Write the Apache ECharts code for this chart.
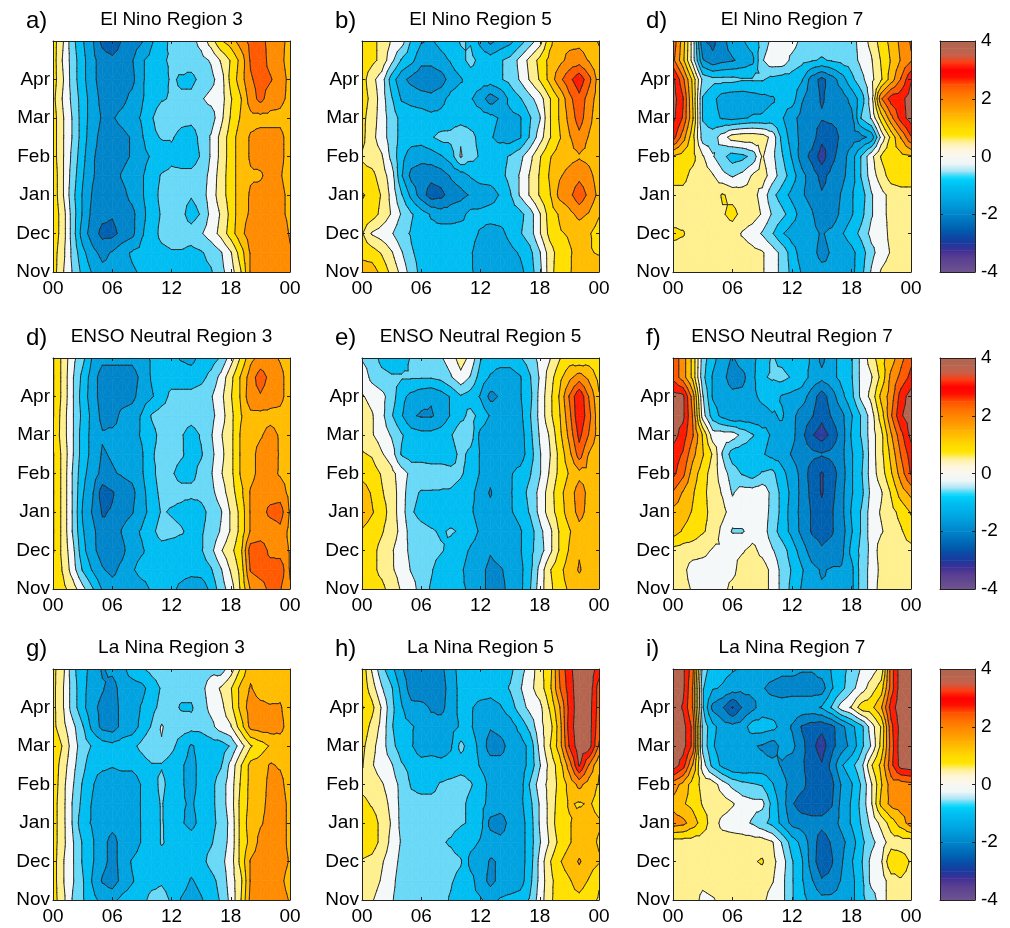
<!DOCTYPE html>
<html><head><meta charset="utf-8">
<script src="https://cdn.jsdelivr.net/npm/echarts@6/dist/echarts.min.js"></script>
<style>html,body{margin:0;padding:0;background:#fff}#c{width:1010px;height:928px}</style>
</head><body><div id="c"></div>
<script>
const hours=[0,1,2,3,4,5,6,7,8,9,10,11,12,13,14,15,16,17,18,19,20,21,22,23,24];
const rowPos=[0,0.5,1,1.5,2,2.5,3,3.5,4,4.5,5,5.5,6];
const monthLabels=['Nov','Dec','Jan','Feb','Mar','Apr',''];
const hourLabels={0:'00',6:'06',12:'12',18:'18',24:'00'};
const levels=[-3.25,-2.75,-2.25,-1.75,-1.25,-0.75,-0.25,0.25,0.75,1.25,1.75,2.25,2.75,3.25];
const bandColors=['#4A3398','#2A3C9E','#0060B0','#0085CA','#00A3E0','#00BEF2','#6AD9F7','#F5F8F8','#FFF08F','#FFE000','#FFBC00','#FF8C00','#FF5A00','#FF1A00','#B5654F'];
const barFrom=[-4,-3.75,-3.5,-3.25,-3,-2.75,-2.5,-2.25,-2,-1.75,-1.5,-1.25,-1,-0.75,-0.5,-0.25,0,0.25,0.5,0.75,1,1.25,1.5,1.75,2,2.25,2.5,2.75,3,3.25,3.5,3.75];
const barColors=['#6F5590','#63498F','#5A3F92','#3F2F95','#1A3A9E','#0A4AA6','#0060B0','#0072BD','#0085CA','#0095D6','#00A5E0','#00B2EA','#00BFF2','#00D5FC','#A5E4F5','#EEF6F8','#F7F7F2','#FFF6DC','#FFF0A0','#FFE500','#FFD900','#FFC400','#FFAE00','#FF9800','#FF8500','#FF6E00','#FF5000','#FF1000','#FF0000','#FF3A10','#C9604A','#B5654F'];
const titles=['El Nino Region 3','El Nino Region 5','El Nino Region 7','ENSO Neutral Region 3','ENSO Neutral Region 5','ENSO Neutral Region 7','La Nina Region 3','La Nina Region 5','La Nina Region 7'];
const letters=['a)','b)','d)','d)','e)','f)','g)','h)','i)'];

const elNinoR3=[
[1.0,0.3,-0.3,-0.9,-1.3,-1.6,-1.6,-1.4,-1.3,-1.2,-1.0,-1.0,-1.0,-1.0,-0.9,-0.9,-0.8,-0.4,0.0,0.7,1.8,2.0,2.1,2.2,1.9],
[1.0,0.4,-0.4,-1.1,-1.6,-1.9,-1.7,-1.4,-1.2,-1.1,-1.0,-0.9,-0.8,-0.8,-0.9,-0.8,-0.6,-0.3,0.2,1.0,1.8,2.0,2.1,2.1,1.8],
[1.1,0.5,-0.5,-1.5,-2.0,-2.4,-2.4,-2.1,-1.9,-1.3,-1.0,-0.6,-0.5,-0.5,-0.5,-0.3,0.0,0.4,1.0,1.6,2.0,2.1,2.1,2.1,1.7],
[1.1,0.5,-0.5,-1.3,-1.9,-2.1,-2.2,-2.0,-1.9,-1.4,-1.0,-0.7,-0.5,-0.6,-1.0,-0.7,-0.1,0.3,0.9,1.6,1.8,2.0,2.0,1.9,1.6],
[1.1,0.3,-0.6,-1.3,-1.8,-2.0,-2.0,-1.9,-1.6,-1.3,-1.0,-0.6,-0.6,-0.6,-0.7,-0.5,0.0,0.5,1.0,1.5,1.8,1.9,2.0,1.9,1.6],
[1.1,0.3,-0.5,-1.2,-1.7,-2.0,-2.0,-1.7,-1.5,-1.3,-1.0,-0.7,-0.6,-0.6,-0.6,-0.5,-0.1,0.5,1.0,1.5,1.7,1.7,1.9,1.8,1.5],
[1.0,0.3,-0.4,-1.1,-1.7,-1.9,-2.0,-1.9,-1.7,-1.4,-1.2,-1.1,-0.9,-1.0,-1.0,-0.7,-0.2,0.4,1.0,1.5,1.8,1.9,1.9,1.9,1.5],
[1.0,0.3,-0.3,-1.0,-1.6,-1.9,-2.0,-1.9,-1.7,-1.3,-0.9,-0.7,-0.7,-0.9,-1.0,-0.6,-0.2,0.4,1.0,1.5,1.8,1.9,1.9,1.9,1.5],
[1.0,0.3,-0.3,-1.0,-1.5,-1.8,-1.8,-1.6,-1.4,-1.2,-0.8,-0.4,-0.5,-0.6,-0.6,-0.5,-0.5,0.1,0.8,1.3,1.6,1.6,1.6,1.6,1.4],
[0.9,0.2,-0.4,-1.0,-1.5,-1.9,-2.0,-1.9,-1.6,-1.3,-1.0,-0.8,-0.7,-0.7,-0.6,-0.3,-0.1,0.0,0.7,1.2,2.0,2.4,2.0,1.9,1.6],
[1.0,0.3,-0.5,-1.1,-1.6,-2.0,-2.1,-2.0,-1.9,-1.3,-1.1,-0.9,-0.7,-0.8,-0.9,-0.6,-0.4,0.0,0.9,1.5,2.2,2.4,2.3,2.0,1.6],
[1.0,0.2,-0.5,-1.1,-1.6,-2.0,-2.1,-2.0,-1.8,-1.3,-1.1,-0.8,-0.7,-0.6,-0.5,-0.4,-0.2,0.3,0.8,1.4,2.3,2.5,2.1,1.9,1.5],
[1.0,0.3,-0.6,-1.2,-1.7,-2.4,-2.7,-2.2,-2.0,-1.8,-1.3,-1.0,-0.6,-0.5,-0.4,-0.1,0.5,1.2,1.5,2.0,2.4,2.4,2.1,1.9,1.6]];
const elNinoR5=[
[1.5,1.5,1.1,0.6,0.1,-0.5,-0.9,-1.0,-1.0,-1.0,-1.1,-1.2,-1.4,-1.5,-1.5,-1.5,-1.4,-1.0,-0.4,0.5,1.1,1.2,1.5,1.6,1.6],
[1.1,1.0,0.7,0.3,-0.2,-0.7,-0.9,-1.0,-1.0,-1.0,-1.1,-1.2,-1.5,-1.6,-1.6,-1.4,-1.2,-0.9,-0.3,0.5,1.0,1.2,1.4,1.3,1.2],
[0.8,0.2,0.0,-0.2,-0.6,-0.8,-1.0,-1.1,-1.0,-1.0,-1.0,-1.1,-1.3,-1.5,-1.4,-1.1,-0.8,-0.5,0.2,0.9,1.2,1.3,1.4,1.3,1.0],
[1.1,1.0,0.6,0.2,-0.3,-0.7,-1.0,-1.3,-1.5,-1.5,-1.4,-1.1,-1.1,-1.0,-1.0,-1.0,-0.9,-0.5,0.2,1.0,1.3,1.6,1.9,1.7,1.3],
[1.3,1.1,0.7,0.1,-0.7,-1.4,-2.0,-2.5,-2.4,-2.0,-1.9,-1.7,-1.6,-1.5,-1.2,-0.8,-0.2,0.3,0.8,1.2,1.9,2.1,2.6,2.1,1.6],
[0.9,0.9,0.5,0.0,-1.2,-1.9,-2.0,-2.1,-2.0,-1.7,-1.5,-1.2,-1.0,-1.0,-0.9,-0.6,-0.2,0.3,0.8,1.3,1.7,1.9,2.1,1.9,1.5],
[0.7,0.5,0.3,-0.4,-1.1,-1.5,-1.6,-1.5,-1.3,-1.0,-0.2,-0.6,-0.8,-1.0,-0.9,-0.7,-0.4,0.1,0.7,1.2,1.5,1.6,1.7,1.6,1.3],
[0.9,0.4,0.0,-0.5,-0.9,-1.0,-1.0,-0.8,-0.6,-0.6,-0.3,-0.6,-0.9,-1.2,-1.4,-1.5,-1.3,-0.7,0.0,0.7,1.2,1.7,2.1,1.7,1.4],
[0.9,0.5,0.0,-0.5,-0.9,-1.0,-1.0,-1.1,-1.1,-1.0,-1.0,-1.0,-1.0,-1.1,-1.3,-1.4,-1.3,-0.8,-0.3,0.7,1.3,1.9,2.5,1.9,1.4],
[1.0,0.6,0.0,-0.7,-1.3,-1.4,-1.5,-1.6,-1.4,-1.1,-1.0,-1.2,-1.5,-2.0,-1.7,-1.1,-0.8,-0.4,0.0,0.7,1.3,2.1,2.6,2.0,1.5],
[1.0,0.4,0.0,-1.0,-1.6,-1.9,-2.1,-2.1,-2.0,-1.5,-1.3,-1.0,-1.0,-1.0,-0.8,-0.6,-0.2,0.3,0.8,1.4,2.1,2.6,3.1,2.4,1.5],
[1.1,0.9,0.6,-0.1,-0.8,-1.1,-1.6,-1.6,-1.4,-1.2,-0.9,-0.6,-0.9,-1.0,-0.8,-0.6,-0.1,0.4,0.9,1.4,1.6,1.9,2.0,1.7,1.4],
[1.0,0.9,0.6,0.2,0.0,-0.8,-1.2,-1.3,-1.1,-1.0,-0.7,-0.8,-1.4,-1.9,-1.6,-1.4,-1.0,-0.5,0.0,1.1,1.6,1.6,1.6,1.5,1.2]];
const elNinoR7=[
[0.5,0.5,0.5,0.5,0.6,0.5,0.5,0.5,0.5,0.3,0.0,-0.4,-0.9,-1.3,-1.5,-1.6,-1.7,-1.5,-1.4,-0.9,-0.2,0.3,0.5,0.5,0.5],
[0.5,0.5,0.5,0.5,0.5,0.5,0.4,0.5,0.4,0.3,0.0,-0.4,-1.0,-1.5,-1.6,-1.9,-1.7,-1.6,-1.4,-1.0,-0.4,0.0,0.3,0.5,0.5],
[0.9,0.8,0.5,0.5,0.5,0.5,0.5,0.2,0.0,-0.3,-0.7,-1.2,-1.5,-1.6,-1.6,-1.8,-1.6,-1.3,-1.0,-0.6,-0.1,0.0,0.4,0.7,0.7],
[0.4,0.5,0.5,0.5,0.5,0.7,0.9,0.6,0.5,0.2,-0.3,-0.6,-1.0,-1.5,-1.7,-2.1,-2.1,-1.6,-1.3,-0.9,-0.3,0.1,0.4,0.5,0.3],
[0.5,0.6,0.5,0.5,0.5,0.8,0.6,0.5,0.4,0.1,-0.6,-1.0,-1.4,-1.7,-1.9,-2.2,-2.1,-1.7,-1.3,-1.0,-0.3,0.1,0.4,0.5,0.5],
[1.0,0.9,0.6,0.5,0.3,-0.1,-0.3,-0.1,0.3,0.5,0.0,-0.5,-1.0,-1.6,-2.0,-2.4,-2.1,-1.9,-1.5,-0.7,0.0,0.5,1.0,1.1,1.1],
[1.2,1.0,0.9,0.3,-0.2,-0.6,-1.0,-0.9,-0.6,0.3,-0.1,-0.7,-1.3,-2.0,-2.4,-3.0,-2.4,-2.0,-1.5,-0.7,0.1,0.8,1.2,1.1,1.2],
[3.0,2.0,0.9,-0.5,-0.5,0.0,0.5,0.6,0.6,0.5,0.1,-0.9,-1.5,-1.9,-2.0,-2.6,-2.6,-2.1,-2.0,-1.9,-1.6,-0.1,0.9,1.8,2.7],
[3.4,2.7,1.3,-0.8,-1.1,-1.3,-1.4,-1.3,-1.2,-1.2,-1.1,-1.2,-1.6,-1.9,-2.1,-2.2,-2.1,-2.1,-1.9,-0.7,-0.2,1.0,2.1,3.0,3.5],
[3.5,2.8,1.2,-0.8,-1.1,-1.5,-1.6,-1.6,-1.5,-1.4,-1.3,-1.1,-1.0,-1.7,-2.0,-2.3,-2.1,-2.0,-1.6,-1.0,0.0,2.2,3.0,3.1,3.5],
[3.4,2.4,1.1,-0.4,-0.6,-0.6,-0.6,-0.7,-0.7,-0.7,-0.9,-1.0,-1.0,-1.2,-2.0,-2.4,-2.0,-1.5,-0.9,-0.4,0.1,0.7,1.5,2.3,3.2],
[2.4,1.4,0.0,-1.7,-2.1,-1.9,-1.8,-1.6,-1.4,-0.3,0.1,0.1,-0.4,-0.6,-0.7,-0.8,-0.7,-0.6,-0.5,-0.1,0.2,0.8,1.3,1.8,2.2],
[2.6,1.5,0.0,-2.2,-2.4,-1.9,-1.5,-1.3,-1.0,-0.6,-0.1,0.0,0.0,-0.4,-0.5,-0.5,-0.5,-0.5,-0.5,0.0,0.4,1.0,1.4,1.9,2.3]];
const neutralR3=[
[1.2,0.9,0.5,-0.1,-0.7,-1.3,-1.5,-1.5,-1.5,-1.4,-1.2,-1.1,-1.1,-1.4,-1.7,-1.6,-1.1,-0.5,0.0,0.8,1.8,2.0,2.4,2.3,1.8],
[1.2,0.7,0.0,-0.8,-1.3,-1.7,-1.9,-1.6,-1.3,-1.1,-1.1,-1.1,-1.0,-1.0,-1.0,-1.0,-0.8,-0.3,0.3,0.9,2.3,2.5,2.5,2.6,1.7],
[1.3,0.6,-0.1,-1.1,-1.6,-2.0,-2.1,-1.9,-1.4,-1.3,-1.1,-1.0,-1.0,-1.0,-0.9,-0.8,-0.4,0.2,0.6,1.1,2.5,2.6,2.1,2.0,1.7],
[1.3,0.6,-0.3,-1.2,-1.6,-2.1,-2.2,-1.7,-1.4,-1.2,-0.9,-0.5,-0.6,-0.7,-0.9,-0.8,-0.6,-0.2,0.3,0.9,1.8,1.9,1.9,2.1,1.6],
[1.3,0.6,-0.3,-1.3,-1.8,-2.3,-2.2,-2.0,-1.8,-1.4,-1.1,-0.7,-0.8,-0.9,-1.1,-0.9,-0.6,-0.3,0.3,0.9,1.8,2.0,2.4,2.5,1.7],
[1.3,0.6,-0.3,-1.2,-1.7,-2.5,-2.3,-2.0,-1.9,-1.4,-1.0,-0.6,-0.6,-0.6,-0.6,-0.6,-0.4,0.0,0.5,1.1,1.8,2.0,2.0,2.0,1.6],
[1.3,0.6,-0.3,-1.1,-1.5,-1.9,-1.8,-1.7,-1.6,-1.3,-0.9,-0.5,-0.7,-0.9,-0.9,-0.6,-0.3,0.2,0.6,1.3,1.6,1.9,1.9,1.7,1.6],
[1.3,0.6,-0.2,-1.0,-1.4,-1.8,-1.7,-1.6,-1.5,-1.3,-0.8,-0.6,-0.6,-0.7,-0.9,-0.8,-0.4,0.1,0.6,1.3,1.6,1.9,2.0,1.7,1.6],
[1.2,0.5,-0.2,-1.0,-1.4,-1.7,-1.6,-1.6,-1.4,-1.2,-0.9,-0.6,-0.6,-0.7,-1.0,-0.7,-0.3,0.2,0.6,1.3,1.6,1.7,1.9,1.7,1.5],
[1.3,0.5,-0.2,-0.9,-1.4,-1.9,-2.0,-1.6,-1.5,-1.2,-0.7,-0.5,-0.5,-0.5,-0.5,-0.4,-0.4,0.0,0.6,1.2,1.6,1.6,1.6,1.6,1.4],
[1.3,0.6,-0.2,-1.0,-1.5,-2.0,-2.1,-2.0,-1.9,-1.5,-1.3,-1.0,-0.6,-0.6,-0.6,-0.5,-0.3,0.1,0.7,1.3,2.1,2.2,2.0,1.9,1.5],
[1.3,0.6,-0.2,-0.9,-1.5,-2.0,-2.0,-2.0,-2.0,-1.6,-1.2,-1.0,-1.0,-1.0,-1.0,-0.9,-0.6,-0.1,0.6,1.3,2.0,2.5,2.1,1.9,1.5],
[1.3,0.6,-0.1,-0.6,-1.3,-1.6,-1.6,-1.6,-1.6,-1.4,-1.2,-1.1,-1.1,-1.3,-1.4,-1.1,-1.0,-0.7,0.0,0.8,1.6,1.9,1.9,1.7,1.5]];
const neutralR5=[
[1.1,1.0,0.9,0.5,0.2,0.0,-0.5,-0.8,-1.0,-1.1,-1.2,-1.3,-1.6,-1.9,-1.9,-1.6,-1.4,-0.8,0.0,0.6,1.1,1.3,1.5,1.5,1.5],
[1.1,0.9,0.6,0.3,0.1,-0.3,-0.5,-0.7,-1.0,-1.1,-1.2,-1.4,-1.6,-1.9,-1.8,-1.6,-1.4,-0.9,-0.1,0.7,1.1,1.5,1.8,1.5,1.3],
[1.1,0.9,0.6,0.3,0.0,-0.4,-0.6,-0.6,-0.7,-0.9,-1.1,-1.3,-1.4,-1.7,-1.5,-1.4,-1.3,-0.9,-0.5,0.1,0.8,1.3,1.7,1.5,1.3],
[1.2,1.0,0.8,0.5,0.1,-0.5,-0.6,-0.7,-0.8,-0.7,-0.8,-1.1,-1.3,-1.5,-1.6,-1.5,-1.3,-1.0,-0.4,0.1,0.8,1.2,1.6,1.5,1.4],
[1.6,1.3,1.0,0.5,0.0,-0.7,-0.9,-1.0,-1.0,-1.0,-1.0,-1.2,-1.4,-1.6,-1.5,-1.3,-1.1,-0.7,-0.1,0.5,1.0,1.5,1.9,1.6,1.4],
[1.5,1.2,0.8,0.5,0.0,-0.6,-0.8,-0.8,-0.8,-0.8,-0.9,-1.1,-1.5,-1.8,-1.4,-1.3,-1.0,-0.6,-0.1,0.5,1.1,1.5,2.0,1.6,1.5],
[1.1,1.0,0.7,0.4,0.0,-0.4,-0.4,-0.4,-0.5,-0.6,-0.7,-0.9,-1.3,-1.6,-1.4,-1.3,-1.1,-0.8,-0.3,0.3,0.9,1.3,1.6,1.6,1.5],
[0.8,0.7,0.3,0.0,-0.8,-1.0,-1.0,-1.1,-1.0,-1.0,-0.6,-0.9,-1.3,-1.6,-1.6,-1.5,-1.5,-1.0,-0.3,0.2,0.9,1.6,2.5,1.7,1.4],
[0.6,0.3,0.0,-0.3,-0.7,-1.0,-1.1,-1.1,-1.0,-0.8,-0.4,-0.5,-1.4,-1.6,-1.6,-1.6,-1.5,-0.9,-0.2,0.3,1.1,1.9,2.9,2.2,1.5],
[0.5,0.3,-0.1,-0.7,-1.2,-1.7,-1.8,-1.8,-1.6,-1.2,-0.9,-0.6,-0.9,-1.3,-1.5,-1.5,-1.4,-0.8,-0.1,0.6,1.2,2.1,3.2,2.4,1.4],
[0.3,0.1,-0.1,-0.5,-1.1,-1.4,-1.6,-1.7,-1.5,-1.2,-0.8,-1.0,-1.3,-1.9,-1.7,-1.5,-1.3,-0.9,-0.1,0.6,1.3,2.3,3.2,2.2,1.3],
[0.1,-0.4,-0.6,-0.7,-0.7,-0.7,-0.7,-0.7,-0.6,-0.3,0.1,-0.3,-1.0,-1.3,-1.5,-1.5,-1.3,-0.8,-0.2,0.5,1.1,1.6,2.0,1.6,1.1],
[-0.3,-0.5,-0.9,-1.0,-1.0,-0.7,-0.6,-0.7,-0.3,0.0,0.5,0.1,-0.7,-1.0,-1.0,-1.0,-0.8,-0.5,-0.1,0.2,0.7,1.0,0.8,1.0,0.9]];
const neutralR7=[
[0.5,0.4,0.2,0.0,0.0,0.1,0.4,0.5,0.5,0.5,0.1,-0.4,-0.9,-1.3,-1.6,-1.7,-1.7,-1.7,-1.4,-0.5,-0.1,0.5,0.6,0.5,0.5],
[0.5,0.4,0.0,0.0,0.0,0.1,0.1,0.5,0.5,0.5,0.1,-0.4,-0.8,-1.2,-1.6,-1.8,-1.7,-1.7,-1.4,-0.5,-0.1,0.4,0.5,0.5,0.5],
[0.6,0.5,0.5,0.4,0.2,0.2,0.2,0.2,0.4,0.1,-0.2,-0.5,-1.0,-1.5,-2.0,-2.2,-2.1,-1.9,-1.1,-0.6,-0.1,0.5,0.6,0.6,0.6],
[1.5,1.2,1.0,0.8,0.6,0.1,-0.3,-0.3,0.0,0.0,-0.5,-1.0,-1.4,-1.9,-2.3,-2.4,-2.3,-2.0,-1.3,-0.7,0.0,0.2,0.5,0.7,1.0],
[1.6,1.5,1.2,0.9,0.6,0.4,0.0,0.1,0.1,0.0,-0.4,-0.9,-1.5,-1.9,-2.3,-2.6,-2.3,-1.9,-1.2,-0.7,0.0,0.3,0.6,0.9,1.3],
[2.2,1.7,1.3,0.9,0.5,0.2,-0.3,0.0,0.0,0.1,-0.4,-0.9,-1.4,-1.9,-2.4,-2.8,-2.4,-1.9,-1.3,-0.9,-0.1,0.2,0.8,1.5,1.9],
[2.9,2.4,1.5,1.0,0.5,0.0,-0.5,-0.8,-1.0,-0.7,-0.6,-1.1,-1.5,-1.9,-2.5,-2.8,-2.5,-2.0,-1.3,-0.8,0.0,0.5,1.2,2.0,2.8],
[3.0,2.7,1.9,1.3,0.7,-0.3,-1.0,-1.1,-1.1,-1.2,-1.4,-1.5,-1.8,-2.0,-2.1,-2.2,-2.1,-1.9,-1.3,-0.9,0.0,0.6,1.4,2.3,3.0],
[3.5,3.0,2.3,1.2,0.0,0.0,0.0,-0.4,-0.7,-1.1,-1.3,-1.4,-1.6,-2.1,-2.7,-3.0,-2.6,-2.0,-1.2,-0.7,0.0,0.6,1.7,2.6,3.4],
[3.5,3.4,2.2,0.0,-1.0,-1.4,-1.7,-1.6,-1.6,-1.5,-1.3,-1.2,-1.6,-2.0,-2.2,-2.6,-2.2,-1.9,-1.3,-0.7,0.0,1.0,2.2,3.2,3.5],
[3.5,3.4,2.0,-0.2,-1.3,-1.5,-1.6,-1.6,-1.4,-1.1,-1.0,-1.3,-1.4,-1.5,-2.0,-2.5,-2.0,-1.4,-0.9,-0.1,0.4,1.4,2.0,3.0,3.5],
[2.6,2.0,1.1,-0.6,-1.3,-1.6,-2.0,-1.9,-1.4,-0.8,-0.7,-0.6,-0.8,-1.0,-1.4,-1.6,-1.4,-1.1,-0.8,-0.1,0.2,0.9,1.9,2.4,2.9],
[2.6,2.0,1.1,-0.5,-1.1,-1.5,-1.8,-1.5,-1.4,-1.0,-0.7,-0.9,-1.1,-1.1,-1.3,-1.9,-1.4,-1.1,-0.8,-0.1,0.5,1.1,1.5,2.1,2.6]];
const laNinaR3=[
[1.0,0.4,-0.3,-0.7,-1.1,-1.4,-1.4,-1.1,-1.0,-0.9,-0.6,-0.6,-0.8,-1.3,-1.5,-1.3,-1.0,-0.7,-0.1,0.7,1.9,2.0,2.0,2.0,1.7],
[1.0,0.3,-0.2,-0.7,-1.3,-1.8,-2.0,-1.6,-1.3,-1.0,-0.9,-0.8,-0.9,-1.0,-1.3,-1.1,-0.9,-0.6,0.0,0.6,1.8,2.1,2.1,1.9,1.5],
[1.0,0.3,-0.2,-0.8,-1.2,-1.6,-1.9,-1.6,-1.2,-1.0,-1.0,-1.0,-1.0,-1.0,-1.0,-0.9,-0.6,-0.4,0.0,0.9,1.8,2.0,2.0,2.0,1.7],
[1.0,0.4,-0.2,-0.8,-1.2,-1.6,-1.9,-1.6,-1.6,-1.2,-1.1,-0.7,-0.9,-0.9,-1.0,-0.9,-0.8,-0.5,-0.1,0.9,1.4,1.9,2.0,2.0,1.6],
[1.0,0.4,-0.3,-1.1,-1.3,-1.5,-1.6,-1.6,-1.6,-1.2,-1.1,-0.7,-1.0,-1.2,-1.4,-1.1,-0.9,-0.6,-0.1,0.9,1.5,1.7,1.9,2.0,1.6],
[1.0,0.4,-0.3,-0.9,-1.3,-1.5,-1.6,-1.6,-1.5,-1.2,-1.0,-0.7,-1.1,-1.2,-1.3,-1.1,-0.9,-0.5,0.0,0.9,1.4,1.6,1.9,2.0,1.6],
[1.1,0.4,-0.2,-0.8,-1.2,-1.6,-1.6,-1.6,-1.6,-1.2,-1.0,-0.6,-1.0,-1.2,-1.4,-1.1,-0.9,-0.5,0.0,0.8,1.4,1.5,1.9,1.9,1.5],
[1.1,0.5,-0.1,-0.6,-1.1,-1.1,-1.2,-1.1,-1.1,-1.0,-0.8,-0.8,-1.0,-1.2,-1.4,-1.1,-1.0,-0.8,-0.1,0.7,1.4,1.5,1.8,1.7,1.5],
[1.2,0.7,0.0,-0.5,-0.8,-1.0,-1.1,-1.0,-0.9,-0.6,-0.3,-0.3,-0.6,-1.0,-1.3,-1.1,-1.0,-1.0,-0.7,0.0,0.7,1.0,1.3,1.5,1.4],
[0.9,0.4,-0.1,-0.7,-1.4,-1.9,-2.0,-1.6,-1.5,-1.1,-0.7,-0.2,-0.5,-0.5,-0.6,-0.6,-0.4,0.0,0.2,1.0,1.9,2.0,2.0,1.9,1.5],
[0.9,0.3,-0.5,-1.1,-1.6,-1.9,-2.0,-1.6,-1.5,-1.2,-0.9,-0.6,-0.6,-0.8,-0.8,-0.5,-0.1,0.1,0.6,1.4,2.0,1.9,1.8,1.8,1.5],
[0.9,0.3,-0.5,-1.1,-1.5,-1.7,-2.0,-1.5,-1.5,-1.4,-1.0,-0.7,-0.6,-0.6,-0.6,-0.4,0.0,0.3,0.7,1.4,1.8,1.5,1.5,1.6,1.4],
[0.9,0.4,-0.6,-1.1,-1.4,-1.8,-1.6,-1.4,-1.0,-0.8,-0.6,-0.5,-0.5,-0.5,-0.6,-0.5,-0.4,-0.5,0.0,0.8,1.6,1.5,1.6,1.5,1.4]];
const laNinaR5=[
[0.5,0.3,0.0,-0.2,-0.5,-0.6,-0.6,-0.6,-0.6,-0.8,-1.1,-1.2,-1.2,-1.4,-1.2,-1.1,-1.0,-0.7,0.0,0.6,1.1,1.1,1.1,0.9,0.7],
[0.6,0.5,0.2,-0.1,-0.5,-0.5,-0.4,-0.3,-0.6,-0.7,-0.9,-1.1,-1.5,-1.9,-1.6,-1.6,-1.5,-0.9,-0.1,0.6,1.0,1.2,1.5,1.2,0.8],
[0.7,0.6,0.3,0.0,-0.4,-0.5,-0.6,-0.6,-0.6,-0.6,-0.7,-1.4,-1.5,-1.8,-1.7,-1.6,-1.5,-1.0,-0.1,0.7,1.2,1.5,1.8,1.5,1.3],
[1.1,1.0,0.6,0.1,-0.3,-0.5,-0.7,-0.7,-0.7,-0.8,-1.0,-1.1,-1.3,-1.5,-1.6,-1.6,-1.5,-1.0,-0.3,0.3,0.9,1.2,1.5,1.4,1.2],
[1.0,1.0,0.6,0.2,-0.4,-0.5,-0.5,-0.6,-0.6,-0.6,-0.7,-0.8,-1.1,-1.9,-2.0,-1.6,-1.5,-1.0,-0.2,0.4,1.1,1.2,1.5,1.4,1.3],
[0.9,0.7,0.5,0.1,-0.4,-0.6,-0.6,-0.6,-0.6,-0.5,-0.6,-0.9,-1.1,-1.4,-1.5,-1.5,-1.4,-0.9,-0.2,0.4,1.0,1.3,1.2,1.3,1.1],
[0.6,0.5,0.3,0.0,-0.4,-0.8,-0.9,-0.9,-0.7,-0.6,-0.5,-0.7,-1.0,-1.4,-1.6,-1.6,-1.5,-0.7,0.0,0.4,0.9,1.4,1.9,1.5,1.2],
[0.8,0.3,0.0,-0.2,-0.7,-0.9,-1.0,-1.0,-1.1,-1.1,-1.0,-1.0,-1.3,-1.5,-1.6,-1.6,-1.5,-1.1,-0.3,0.4,1.0,2.0,3.3,2.2,1.3],
[0.9,0.4,0.0,-0.6,-1.0,-1.2,-1.6,-1.5,-1.5,-1.3,-0.6,-1.0,-1.4,-2.0,-1.9,-1.6,-1.5,-1.1,-0.1,0.7,1.5,2.8,3.6,3.5,2.2],
[1.1,0.6,0.1,-0.7,-1.1,-1.2,-1.4,-1.6,-1.5,-1.4,-1.2,-1.2,-1.5,-1.7,-1.6,-1.5,-1.1,-0.6,0.1,0.5,1.5,3.0,3.6,3.5,2.4],
[1.3,0.9,0.2,-0.6,-1.2,-1.6,-1.6,-1.8,-1.9,-1.5,-1.1,-1.2,-1.4,-1.4,-1.3,-1.0,-0.5,-0.1,0.1,0.8,1.7,2.9,3.6,3.5,2.5],
[1.1,0.5,-0.2,-0.7,-1.4,-2.0,-2.1,-2.1,-2.0,-1.5,-1.1,-1.0,-1.0,-1.1,-1.0,-0.7,-0.3,0.1,0.5,1.1,2.2,3.0,3.6,3.6,2.5],
[1.1,0.2,-0.6,-1.1,-1.7,-2.0,-2.1,-2.2,-1.9,-1.4,-1.1,-1.0,-1.0,-1.0,-1.0,-0.9,-0.4,-0.1,0.6,1.0,2.3,3.1,3.6,3.6,3.0]];
const laNinaR7=[
[0.5,0.5,0.5,0.1,0.2,0.4,0.5,0.5,0.5,0.4,0.0,-0.1,-0.7,-1.1,-1.4,-1.6,-1.6,-1.6,-1.4,-0.9,-0.5,0.0,0.5,0.5,0.5],
[0.5,0.5,0.5,0.4,0.5,0.5,0.5,0.5,0.5,0.5,0.3,-0.1,-0.7,-1.2,-1.7,-2.2,-2.1,-1.7,-1.4,-0.9,-0.1,0.0,0.5,0.7,0.6],
[0.6,0.5,0.5,0.5,0.5,0.4,0.5,0.5,0.7,0.8,0.4,0.0,-0.7,-1.2,-2.0,-2.6,-2.3,-1.8,-1.3,-0.8,-0.1,0.2,1.2,1.0,0.7],
[0.5,0.5,0.5,0.5,0.5,0.5,0.5,0.5,0.5,0.5,0.3,-0.3,-1.0,-1.4,-2.0,-2.5,-2.2,-1.9,-1.5,-0.9,-0.4,0.0,0.5,0.5,0.5],
[2.0,1.9,1.5,1.0,0.5,0.1,0.0,-0.1,-0.3,-0.6,-0.9,-1.4,-1.9,-2.0,-2.1,-2.1,-2.0,-1.6,-1.2,-0.7,-0.1,0.4,1.0,1.5,2.0],
[1.6,1.3,1.1,0.7,0.6,0.5,0.3,0.0,-0.1,-0.1,-0.9,-1.5,-2.2,-2.5,-2.5,-2.5,-2.3,-1.6,-1.2,-0.6,0.2,1.4,1.9,2.0,2.0],
[2.0,1.6,1.0,0.6,0.5,0.0,-0.4,-0.6,-0.7,-0.8,-1.2,-1.6,-1.9,-2.1,-2.5,-2.6,-2.4,-1.7,-1.3,-0.7,0.2,1.2,2.0,2.0,2.1],
[3.6,3.0,1.7,0.0,-0.9,-1.4,-1.7,-1.7,-1.6,-1.6,-1.6,-1.8,-2.0,-2.2,-2.4,-2.7,-2.1,-1.3,-0.9,-0.4,0.7,1.4,2.6,3.5,3.6],
[3.6,3.5,2.6,-0.4,-1.2,-1.5,-1.6,-1.5,-1.7,-1.8,-2.0,-1.6,-1.6,-2.1,-2.6,-3.0,-2.4,-2.0,-1.6,-0.9,-0.2,0.9,2.5,3.6,3.6],
[3.6,3.5,2.6,-0.4,-1.1,-1.5,-1.6,-1.5,-1.0,-1.0,-1.1,-1.4,-1.8,-2.3,-2.5,-2.6,-2.4,-1.9,-1.4,-0.9,0.0,0.8,2.6,3.5,3.6],
[3.6,3.2,2.2,-0.7,-1.9,-2.2,-2.8,-2.2,-1.9,-1.5,-1.5,-1.5,-1.4,-1.4,-1.4,-1.2,-0.7,0.0,0.3,1.0,1.1,1.7,3.0,3.6,3.6],
[3.6,3.4,2.2,-0.7,-1.2,-1.3,-1.5,-1.6,-1.6,-1.7,-1.9,-2.0,-2.0,-2.0,-2.0,-2.0,-1.3,-0.9,-0.4,0.0,0.5,1.0,2.5,3.6,3.6],
[3.6,3.4,2.4,-0.5,-1.0,-1.1,-1.2,-1.3,-1.5,-1.5,-1.5,-1.6,-1.6,-1.7,-1.7,-1.5,-1.2,-0.9,-0.6,-0.2,0.0,0.4,2.5,3.6,3.6]];
const panels=[elNinoR3,elNinoR5,elNinoR7,neutralR3,neutralR5,neutralR7,laNinaR3,laNinaR5,laNinaR7];

const FONT='"Liberation Sans",Arial,sans-serif';
const colX=[[53,237],[362,237],[673,238]];
const rowY=[[41,231],[358,231],[669,231]];
const barX=[940,35];

function clip(pts,lv,keepAbove){
  const out=[];
  for(let i=0;i<pts.length;i++){
    const a=pts[i],b=pts[(i+1)%pts.length];
    const ina=keepAbove?a[2]>=lv:a[2]<=lv, inb=keepAbove?b[2]>=lv:b[2]<=lv;
    if(ina) out.push(a);
    if(ina!==inb){const t=(lv-a[2])/(b[2]-a[2]);out.push([a[0]+t*(b[0]-a[0]),a[1]+t*(b[1]-a[1]),lv]);}
  }
  return out;
}
function makeContour(matrix){
  return function(params,api){
    const c=api.value(3),r=api.value(4);
    if(c>=hours.length-1||r>=rowPos.length-1) return null;
    const P=(cc,rr)=>{const q=api.coord([hours[cc],rowPos[rr]]);return [q[0],q[1],matrix[rr][cc]];};
    const a=P(c,r),b=P(c+1,r),d=P(c+1,r+1),e=P(c,r+1);
    const mid=[(a[0]+d[0])/2,(a[1]+d[1])/2,(a[2]+b[2]+d[2]+e[2])/4];
    const children=[];
    [[a,b,mid],[b,d,mid],[d,e,mid],[e,a,mid]].forEach(tri=>{
      const mn=Math.min(tri[0][2],tri[1][2],tri[2][2]),mx=Math.max(tri[0][2],tri[1][2],tri[2][2]);
      for(let k=0;k<bandColors.length;k++){
        const lo=k===0?-Infinity:levels[k-1],hi=k===levels.length?Infinity:levels[k];
        if(mx<lo||mn>hi) continue;
        let poly=tri;
        if(lo!==-Infinity) poly=clip(poly,lo,true);
        if(poly.length&&hi!==Infinity) poly=clip(poly,hi,false);
        if(poly.length<3) continue;
        children.push({type:'polygon',silent:true,shape:{points:poly.map(q=>[q[0],q[1]])},style:{fill:bandColors[k],stroke:bandColors[k],lineWidth:0.6},z2:1});
      }
      levels.forEach(L=>{
        if(mx<L||mn>L) return;
        const seg=[];
        for(let i=0;i<3;i++){
          const u=tri[i],v=tri[(i+1)%3];
          if((u[2]<L)!==(v[2]<L)){const t=(L-u[2])/(v[2]-u[2]);seg.push([u[0]+t*(v[0]-u[0]),u[1]+t*(v[1]-u[1])]);}
        }
        if(seg.length===2) children.push({type:'line',silent:true,shape:{x1:seg[0][0],y1:seg[0][1],x2:seg[1][0],y2:seg[1][1]},style:{stroke:'#2b2b2b',lineWidth:1,lineCap:'round'},z2:5});
      });
    });
    return {type:'group',children};
  };
}

const grid=[],xAxis=[],yAxis=[],series=[],title=[];
const axisLine={show:true,onZero:false,lineStyle:{color:'#222',width:1}};
const tickIn={show:true,inside:true,length:3,lineStyle:{color:'#222',width:1}};
panels.forEach((m,p)=>{
  const col=p%3,row=Math.floor(p/3);
  grid.push({left:colX[col][0],width:colX[col][1],top:rowY[row][0],height:rowY[row][1]});
  const gi=grid.length-1;
  xAxis.push({gridIndex:gi,type:'value',min:0,max:24,interval:6,axisLine,axisTick:tickIn,splitLine:{show:false},z:10,
    axisLabel:{color:'#000',fontFamily:FONT,fontSize:19,margin:7,formatter:v=>hourLabels[v]||''}});
  xAxis.push({gridIndex:gi,type:'value',position:'top',min:0,max:24,interval:6,axisLine,axisTick:tickIn,splitLine:{show:false},axisLabel:{show:false},z:10});
  yAxis.push({gridIndex:gi,type:'value',min:0,max:6,interval:1,axisLine,axisTick:tickIn,splitLine:{show:false},z:10,
    axisLabel:{color:'#000',fontFamily:FONT,fontSize:19,margin:3,formatter:v=>monthLabels[v]||''}});
  yAxis.push({gridIndex:gi,type:'value',position:'right',min:0,max:6,interval:1,axisLine,axisTick:tickIn,splitLine:{show:false},axisLabel:{show:false},z:10});
  const data=[];
  rowPos.forEach((y,r)=>hours.forEach((h,c)=>data.push([h,y,m[r][c],c,r])));
  series.push({type:'custom',xAxisIndex:xAxis.length-2,yAxisIndex:yAxis.length-2,clip:true,silent:true,animation:false,
    coordinateSystem:'cartesian2d',encode:{x:0,y:1},data,renderItem:makeContour(m)});
  const cx=colX[col][0]+colX[col][1]/2;
  title.push({text:titles[p],left:cx,top:rowY[row][0]-31,textAlign:'center',padding:0,textStyle:{color:'#000',fontFamily:FONT,fontSize:19,fontWeight:'normal'}});
  title.push({text:letters[p],left:colX[col][0]-27,top:rowY[row][0]-32,textAlign:'left',padding:0,textStyle:{color:'#000',fontFamily:FONT,fontSize:24,fontWeight:'normal'}});
});
rowY.forEach(ry=>{
  grid.push({left:barX[0],width:barX[1],top:ry[0],height:ry[1]});
  const gi=grid.length-1;
  xAxis.push({gridIndex:gi,type:'value',min:0,max:1,axisLine,axisTick:{show:false},axisLabel:{show:false},splitLine:{show:false},z:10});
  xAxis.push({gridIndex:gi,type:'value',position:'top',min:0,max:1,axisLine,axisTick:{show:false},axisLabel:{show:false},splitLine:{show:false},z:10});
  yAxis.push({gridIndex:gi,type:'value',position:'right',min:-4,max:4,interval:2,axisLine,axisTick:tickIn,splitLine:{show:false},z:10,
    axisLabel:{color:'#000',fontFamily:FONT,fontSize:19,margin:6,align:'left',formatter:v=>String(v)}});
  yAxis.push({gridIndex:gi,type:'value',position:'left',min:-4,max:4,interval:2,axisLine,axisTick:tickIn,axisLabel:{show:false},splitLine:{show:false},z:10});
  series.push({type:'custom',xAxisIndex:xAxis.length-2,yAxisIndex:yAxis.length-2,silent:true,animation:false,coordinateSystem:'cartesian2d',
    encode:{x:0,y:1},data:barFrom.map((v,i)=>[0,v,i]),
    renderItem(params,api){
      const i=api.value(2),lo=api.value(1),hi=i<barFrom.length-1?barFrom[i+1]:4;
      const p0=api.coord([0,hi]),p1=api.coord([1,lo]);
      const top=barColors[Math.min(i+1,barColors.length-1)],bottom=barColors[i];
      return {type:'rect',shape:{x:p0[0],y:p0[1],width:p1[0]-p0[0],height:p1[1]-p0[1]+0.5},
        style:{fill:new echarts.graphic.LinearGradient(0,0,0,1,[{offset:0,color:top},{offset:1,color:bottom}])}};
    }});
});
const chart=echarts.init(document.getElementById('c'),null,{renderer:'canvas'});
chart.setOption({animation:false,backgroundColor:'#fff',title,grid,xAxis,yAxis,series,tooltip:{show:false}});
</script></body></html>
